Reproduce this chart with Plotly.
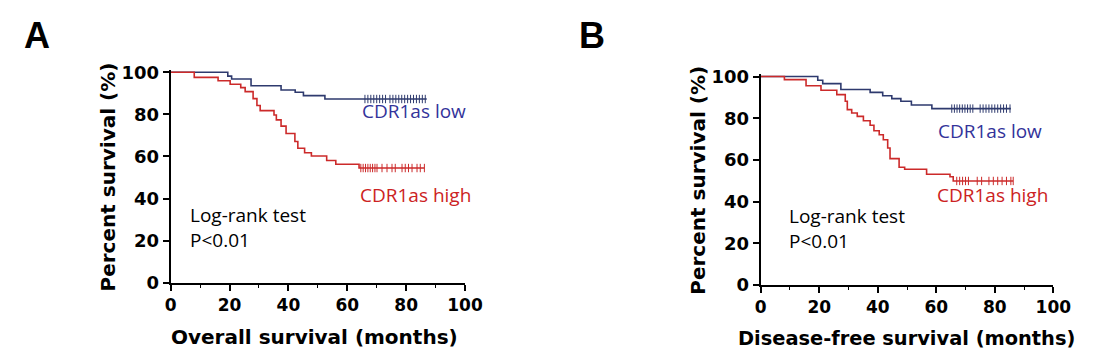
import plotly.graph_objects as go

# ---------------- data ----------------
# Panel A: Overall survival
a_low_times = [19.4, 20.7, 27.3, 37.5, 42.3, 45.1, 52.4]
a_low_surv = [98.2, 96.8, 93.6, 91.6, 90.5, 88.9, 87.3]
a_low_end = 87.0
a_low_censor = [66, 67, 68, 69, 70, 71, 72, 73, 74.5, 75.5, 76.5, 77.5, 78.5,
                79.5, 80.5, 81.5, 82.5, 83.5, 84.5, 85.5, 86.5]

a_high_times = [8.0, 16.1, 20.2, 23.8, 25.3, 28.0, 29.3, 30.4, 35.1, 35.9, 37.5,
                39.2, 42.2, 43.2, 45.5, 47.8, 53.0, 56.1, 64.0]
a_high_surv = [97.6, 96.0, 94.3, 92.7, 90.8, 87.5, 84.2, 81.8, 79.7, 77.4, 74.4,
               70.9, 67.1, 63.9, 61.8, 60.2, 58.1, 56.3, 54.5]
a_high_end = 86.2
a_high_censor = [64.6, 65.4, 66.2, 67.0, 67.8, 68.6, 69.4, 70.1, 71.8, 73.5, 75.2,
                 76.3, 78.6, 79.7, 80.8, 82.0, 83.7, 84.8, 86.2]

# Panel B: Disease-free survival
b_low_times = [19.5, 21.2, 27.4, 37.4, 41.7, 44.8, 47.9, 51.5, 58.5]
b_low_surv = [98.2, 96.6, 93.8, 92.4, 90.8, 89.4, 88.1, 86.3, 84.6]
b_low_end = 85.5
b_low_censor = [65.3, 66.2, 67.1, 68.0, 68.9, 69.8, 70.7, 71.6, 72.5, 75.0, 76.0,
                77.0, 78.0, 79.0, 80.0, 81.0, 82.0, 83.0, 84.0, 85.2]

b_high_times = [8.1, 15.5, 20.6, 26.0, 28.9, 29.6, 31.1, 33.0, 35.1, 37.4, 38.7,
                40.5, 41.9, 43.4, 44.2, 47.3, 49.2, 56.7, 64.7, 65.8]
b_high_surv = [98.5, 95.6, 93.4, 91.3, 88.1, 84.1, 82.5, 80.9, 78.8, 76.6, 74.0,
               72.1, 69.7, 65.7, 60.6, 56.5, 55.5, 53.1, 51.9, 49.9]
b_high_end = 86.3
b_high_censor = [67.0, 68.0, 69.0, 70.0, 71.0, 74.0, 75.5, 78.0, 79.5, 81.0,
                 82.5, 84.0, 85.5, 86.3]

x_ticks = [0, 20, 40, 60, 80, 100]
y_ticks = [0, 20, 40, 60, 80, 100]
x_titles = ["Overall survival (months)", "Disease-free survival (months)"]
y_title = "Percent survival (%)"
panel_labels = ["A", "B"]
group_labels = ["CDR1as low", "CDR1as high"]
test_text = "Log-rank test<br>P&lt;0.01"

LINE_LOW = "#2e3a6e"
LINE_HIGH = "#cc2a2a"
TXT_LOW = "#33339a"
TXT_HIGH = "#cc2222"
BOLD = "DejaVu Sans, Liberation Sans, Arial, sans-serif"
TXTF = "Open Sans, Noto Sans, sans-serif"

# page is 1106x357; the html body has an 8 px margin
OFF = 8
W, H = 1106 - OFF, 357 - OFF


def fx(px):
    return (px - OFF) / W


def fy(py):
    return (H - (py - OFF)) / H


def step_xy(times, surv, end):
    xs = [0] + list(times) + [end]
    ys = [100] + list(surv) + [surv[-1]]
    return xs, ys


def censor_y(times, surv, ctimes):
    out = []
    for c in ctimes:
        lvl = 100
        for t, s in zip(times, surv):
            if t <= c:
                lvl = s
        out.append(lvl)
    return out


fig = go.Figure()

panels = [
    dict(low=(a_low_times, a_low_surv, a_low_end, a_low_censor),
         high=(a_high_times, a_high_surv, a_high_end, a_high_censor),
         xd=[170.7, 465.0], y0=282.7, y100=72.3, ax="x", ay="y",
         low_txt=(64.3, 81.8), high_txt=(63.8, 41.8), test_txt=(6.0, 26.1),
         label_xy=(37, 36), ytitle_x=107, xtitle=(314, 337), xtitle_size=20),
    dict(low=(b_low_times, b_low_surv, b_low_end, b_low_censor),
         high=(b_high_times, b_high_surv, b_high_end, b_high_censor),
         xd=[760.7, 1053.3], y0=285.0, y100=76.5, ax="x2", ay="y2",
         low_txt=(59.9, 74.1), high_txt=(59.5, 43.0), test_txt=(8.9, 27.0),
         label_xy=(592, 36), ytitle_x=698, xtitle=(906, 338), xtitle_size=19.4),
]

for i, p in enumerate(panels):
    for key, col in (("low", LINE_LOW), ("high", LINE_HIGH)):
        t, s, e, c = p[key]
        xs, ys = step_xy(t, s, e)
        fig.add_trace(go.Scatter(x=xs, y=ys, mode="lines", line=dict(color=col, width=1.6, shape="hv"),
                                 xaxis=p["ax"], yaxis=p["ay"], showlegend=False, hoverinfo="skip"))
        fig.add_trace(go.Scatter(x=c, y=censor_y(t, s, c), mode="markers",
                                 marker=dict(symbol="line-ns-open", size=6, color=col,
                                             line=dict(color=col, width=1)),
                                 xaxis=p["ax"], yaxis=p["ay"], showlegend=False, hoverinfo="skip"))

    ppx = (p["y0"] - p["y100"]) / 100.0
    ytop = p["y100"] - ppx * 1.0
    xdom = [fx(p["xd"][0]), fx(p["xd"][1])]
    ydom = [fy(p["y0"]), fy(ytop)]
    axis_common = dict(showline=True, linecolor="black", linewidth=2, ticks="outside",
                       ticklen=6, tickwidth=2, tickcolor="black", showgrid=False, zeroline=False,
                       automargin=False)
    xname = "xaxis" if i == 0 else "xaxis2"
    yname = "yaxis" if i == 0 else "yaxis2"
    fig.update_layout(**{
        xname: dict(domain=xdom, range=[0, 100], tickvals=x_ticks, anchor=p["ay"],
                    minor=dict(tickvals=[10, 30, 50, 70, 90], ticks="outside", ticklen=3,
                               tickwidth=1, tickcolor="black"),
                    tickfont=dict(family=BOLD, size=17, color="black", weight="bold"),
                    **axis_common),
        yname: dict(domain=ydom, range=[0, 101], tickvals=y_ticks, anchor=p["ax"],
                    tickfont=dict(family=BOLD, size=18, color="black", weight="bold"),
                    **axis_common),
    })
    # x title
    fig.add_annotation(text=x_titles[i], xref="paper", yref="paper", x=fx(p["xtitle"][0]),
                       y=fy(p["xtitle"][1]), showarrow=False,
                       font=dict(family=BOLD, size=p["xtitle_size"], color="black", weight="bold"),
                       xanchor="center", yanchor="middle")
    # y title
    fig.add_annotation(text=y_title, xref="paper", yref="paper", x=fx(p["ytitle_x"]),
                       y=fy((p["y0"] + p["y100"]) / 2), textangle=-90, showarrow=False,
                       font=dict(family=BOLD, size=20, color="black", weight="bold"),
                       xanchor="center", yanchor="middle")
    # panel label
    fig.add_annotation(text=panel_labels[i], xref="paper", yref="paper", x=fx(p["label_xy"][0]),
                       y=fy(p["label_xy"][1]), showarrow=False,
                       font=dict(family="Liberation Sans, Arial, sans-serif", size=36, color="black",
                                 weight="bold"),
                       xanchor="center", yanchor="middle")
    # group labels
    fig.add_annotation(text=group_labels[0], xref=p["ax"], yref=p["ay"], x=p["low_txt"][0],
                       y=p["low_txt"][1], showarrow=False, xanchor="left", yanchor="middle",
                       font=dict(family=TXTF, size=19, color=TXT_LOW))
    fig.add_annotation(text=group_labels[1], xref=p["ax"], yref=p["ay"], x=p["high_txt"][0],
                       y=p["high_txt"][1], showarrow=False, xanchor="left", yanchor="middle",
                       font=dict(family=TXTF, size=19, color=TXT_HIGH))
    fig.add_annotation(text=test_text, xref=p["ax"], yref=p["ay"], x=p["test_txt"][0],
                       y=p["test_txt"][1], showarrow=False, xanchor="left", yanchor="middle",
                       align="left", font=dict(family=TXTF, size=19, color="black"))

fig.update_layout(width=W, height=H, margin=dict(l=0, r=0, t=0, b=0, autoexpand=False),
                  plot_bgcolor="white", paper_bgcolor="white", showlegend=False)

fig.write_html("out.html")
